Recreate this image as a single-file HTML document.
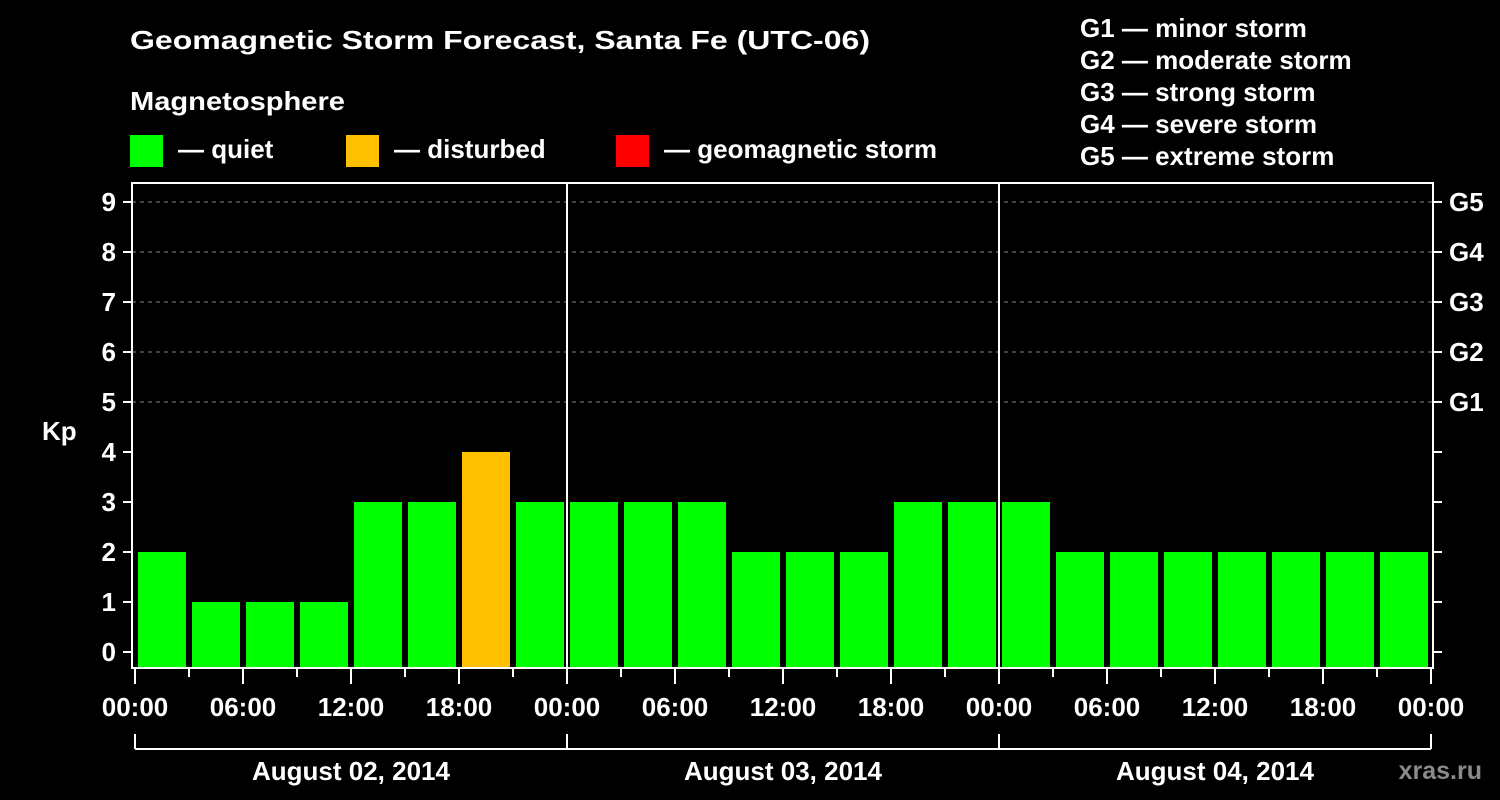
<!DOCTYPE html>
<html><head><meta charset="utf-8"><style>
html,body{margin:0;padding:0;background:#000;}
svg{display:block;}
text{font-family:"Liberation Sans",Arial,sans-serif;font-weight:bold;fill:#fff;}
</style></head><body>
<svg id="chart" width="1500" height="800" viewBox="0 0 1500 800" xmlns="http://www.w3.org/2000/svg">
<rect width="1500" height="800" fill="#000"/>
<text x="130" y="49" font-size="26" textLength="740" lengthAdjust="spacingAndGlyphs">Geomagnetic Storm Forecast, Santa Fe (UTC-06)</text>
<text x="130" y="110" font-size="26" textLength="215" lengthAdjust="spacingAndGlyphs">Magnetosphere</text>
<rect x="130" y="135" width="33" height="32" fill="#00ff00"/>
<text x="178" y="158" font-size="26">— quiet</text>
<rect x="346" y="135" width="33" height="32" fill="#ffc000"/>
<text x="394" y="158" font-size="26">— disturbed</text>
<rect x="616" y="135" width="33" height="32" fill="#ff0000"/>
<text x="664" y="158" font-size="26">— geomagnetic storm</text>
<g font-size="26">
<text x="1080" y="37">G1 — minor storm</text>
<text x="1080" y="69">G2 — moderate storm</text>
<text x="1080" y="101">G3 — strong storm</text>
<text x="1080" y="133">G4 — severe storm</text>
<text x="1080" y="165">G5 — extreme storm</text>
</g>
<g id="grid"></g>
<g id="bars"></g>
<g id="axes"></g>
<text x="42" y="440" font-size="26">Kp</text>
<text x="1482" y="779" font-size="25" text-anchor="end" style="fill:#8a8a8a">xras.ru</text>
</svg>
<script>
const kpValues = [2,1,1,1,3,3,4,3, 3,3,3,2,2,2,3,3, 3,2,2,2,2,2,2,2];
const yTicks = [0,1,2,3,4,5,6,7,8,9];
const gLabels = ["","","","","","G1","G2","G3","G4","G5"];
const xTickLabels = ["00:00","06:00","12:00","18:00","00:00","06:00","12:00","18:00","00:00","06:00","12:00","18:00","00:00"];
const dayLabels = ["August 02, 2014","August 03, 2014","August 04, 2014"];

const NS="http://www.w3.org/2000/svg";
const L=132,R=1433,T=183,B=668,X0=135,pxH=18;
const y=v=>652-50*v;
const x=h=>X0+pxH*h;
function mk(tag,attrs,parent,txt){const e=document.createElementNS(NS,tag);for(const k in attrs)e.setAttribute(k,attrs[k]);if(txt!==undefined)e.textContent=txt;parent.appendChild(e);return e;}
const grid=document.getElementById('grid'),bars=document.getElementById('bars'),axes=document.getElementById('axes');
yTicks.forEach(v=>{
  if(v>=5){const g=mk('line',{x1:L,x2:R,y1:y(v),y2:y(v),stroke:'#888','stroke-dasharray':'4,4','stroke-width':1},grid);
  
  }
  const t=mk('line',{x1:L-9,x2:L,y1:y(v),y2:y(v),stroke:'#fff','stroke-width':2},axes);
  
  
  const t2=mk('line',{x1:R,x2:R+9,y1:y(v),y2:y(v),stroke:'#fff','stroke-width':2},axes);
  
  
  const lb=mk('text',{x:116,y:y(v)+9,'font-size':26,'text-anchor':'end'},axes,String(v));
  
  
  if(gLabels[v]){const gl=mk('text',{x:1449,y:y(v)+9,'font-size':26},axes,gLabels[v]);
  
  }
});
kpValues.forEach((v,i)=>{
  const col=v>=5?'#ff0000':(v>=4?'#ffc000':'#00ff00');
  const b=mk('rect',{x:x(3*i)+3,y:y(v),width:48,height:B-y(v),fill:col},bars);
  
  
});
const fr=mk('rect',{x:L,y:T,width:R-L,height:B-T,fill:'none',stroke:'#fff','stroke-width':2},axes);


[1,2].forEach(d=>{const s=mk('line',{x1:x(24*d),x2:x(24*d),y1:T,y2:B,stroke:'#fff','stroke-width':2},axes);
  
  });
for(let h=0;h<=72;h+=3){const major=h%6===0;
  const t=mk('line',{x1:x(h),x2:x(h),y1:B,y2:B+(major?16:9),stroke:'#fff','stroke-width':2},axes);
  
  }
xTickLabels.forEach((s,i)=>{const t=mk('text',{x:x(6*i),y:716,'font-size':26,'text-anchor':'middle'},axes,s);
  
  });
const br=mk('line',{x1:x(0),x2:x(72),y1:749,y2:749,stroke:'#fff','stroke-width':2},axes);


for(let d=0;d<=3;d++){const t=mk('line',{x1:x(24*d),x2:x(24*d),y1:734,y2:749,stroke:'#fff','stroke-width':2},axes);
  
  }
dayLabels.forEach((s,i)=>{const t=mk('text',{x:x(24*i+12),y:780,'font-size':26,'text-anchor':'middle'},axes,s);
  
  });
</script>
</body></html>
